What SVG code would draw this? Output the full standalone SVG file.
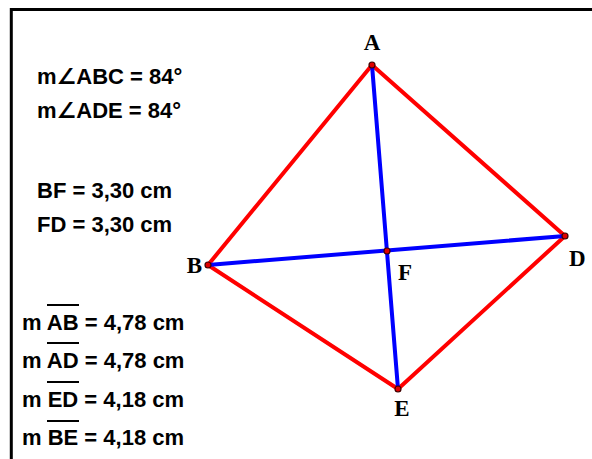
<svg xmlns="http://www.w3.org/2000/svg" width="592" height="459" viewBox="0 0 592 459">
<style>
.m{font-family:"Liberation Sans",Arial,"DejaVu Sans",sans-serif;font-weight:bold;font-size:22px;fill:#000}
.lbl{font-family:"Liberation Serif","Times New Roman",serif;font-weight:bold;font-size:23px;fill:#000}
.side{stroke:#ff0000;stroke-width:4;stroke-linecap:round;fill:none}
.diag{stroke:#0000ff;stroke-width:4;stroke-linecap:round;fill:none}
.pt{fill:#e00000;stroke:#400000;stroke-width:1.2}
.ov{stroke:#000;stroke-width:2}
</style>
<rect width="592" height="459" fill="#fff"/>
<path d="M11.3,459 V9.5 H592" fill="none" stroke="#000" stroke-width="3"/>
<g id="connectors">
<line class="side" x1="372" y1="65" x2="208" y2="265"/>
<line class="side" x1="372" y1="65" x2="565" y2="236"/>
<line class="side" x1="208" y1="265" x2="398" y2="389"/>
<line class="side" x1="565" y1="236" x2="398" y2="389"/>
<line class="diag" x1="372" y1="65" x2="398" y2="389"/>
<line class="diag" x1="208" y1="265" x2="565" y2="236"/>
</g>
<g id="A"><circle class="pt" cx="372" cy="65" r="3"/><text class="lbl" x="372" y="50" text-anchor="middle">A</text></g>
<g id="B"><circle class="pt" cx="208" cy="265" r="3"/><text class="lbl" x="202" y="273" text-anchor="end">B</text></g>
<g id="D"><circle class="pt" cx="565" cy="236" r="3"/><text class="lbl" x="569" y="266">D</text></g>
<g id="E"><circle class="pt" cx="398" cy="389" r="3"/><text class="lbl" x="402" y="416" text-anchor="middle">E</text></g>
<g id="F"><circle class="pt" cx="387" cy="251" r="3"/><text class="lbl" x="398" y="280">F</text></g>
<g id="measures">
<text class="m" x="37" y="84">m∠ABC = 84°</text>
<text class="m" x="37" y="118">m∠ADE = 84°</text>
<text class="m" x="37" y="198">BF = 3,30 cm</text>
<text class="m" x="37" y="232">FD = 3,30 cm</text>
<text class="m" x="22" y="330">m AB = 4,78 cm</text>
<text class="m" x="22" y="368">m AD = 4,78 cm</text>
<text class="m" x="22" y="407">m ED = 4,18 cm</text>
<text class="m" x="22" y="445">m BE = 4,18 cm</text>
<line class="ov" x1="47" y1="305" x2="79" y2="305"/>
<line class="ov" x1="47" y1="343" x2="79" y2="343"/>
<line class="ov" x1="47" y1="382" x2="79" y2="382"/>
<line class="ov" x1="47" y1="421" x2="79" y2="421"/>
</g>
</svg>
